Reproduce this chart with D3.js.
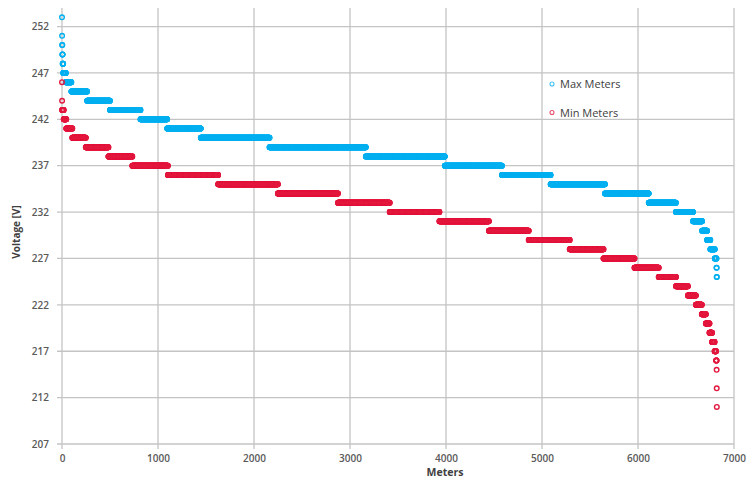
<!DOCTYPE html>
<html>
<head>
<meta charset="utf-8">
<script src="https://cdn.jsdelivr.net/npm/d3@7"></script>
<style>
  html, body { margin: 0; padding: 0; background: #fff; }
  svg { display: block; }
  .tick text { font-family: "Open Sans", "Liberation Sans", sans-serif; font-size: 10px; font-weight: 600; fill: #595959; }
</style>
</head>
<body>
<div id="chart"></div>
<script>
// Voltage levels (V) and the number of meters reading each level.
// Meters are sorted from highest to lowest voltage along the x axis.
const maxLevels = [253, 252, 251, 250, 249, 248, 247, 246, 245, 244, 243, 242, 241, 240, 239, 238, 237, 236, 235, 234, 233, 232, 231, 230, 229, 228, 227, 226, 225];
const maxCounts = [1, 0, 1, 2, 3, 6, 27, 58, 164, 238, 318, 278, 350, 716, 1003, 823, 595, 507, 566, 456, 283, 178, 95, 52, 34, 46, 18, 2, 2];

const minLevels = [246, 245, 244, 243, 242, 241, 240, 239, 238, 237, 236, 235, 234, 233, 232, 231, 230, 229, 228, 227, 226, 225, 224, 223, 222, 221, 220, 219, 218, 217, 216, 215, 214, 213, 212, 211];
const minCounts = [1, 0, 1, 16, 27, 63, 140, 236, 249, 370, 524, 622, 626, 539, 518, 515, 415, 427, 352, 323, 252, 180, 124, 83, 62, 42, 38, 27, 26, 16, 5, 1, 0, 1, 0, 1];

const xTicks = [0, 1000, 2000, 3000, 4000, 5000, 6000, 7000];
const yTicks = [207, 212, 217, 222, 227, 232, 237, 242, 247, 252];

const seriesNames = ["Max Meters", "Min Meters"];
const seriesColors = ["#00B0F0", "#E3173E"];

// Expand level/count pairs into one point per meter (rank, voltage).
function expand(levels, counts) {
  const pts = [];
  let idx = 0;
  levels.forEach((v, k) => {
    for (let c = 0; c < counts[k]; c++) pts.push({ i: idx++, v: v });
  });
  return pts;
}
const series = [expand(maxLevels, maxCounts), expand(minLevels, minCounts)];

const W = 747, H = 478;
const margin = { left: 62, right: 13, top: 8, bottom: 34 };

const svg = d3.select("#chart").append("svg")
  .attr("width", W).attr("height", H);

const defs = svg.append("defs");
defs.append("filter").attr("id", "soft")
  .append("feGaussianBlur").attr("stdDeviation", 0.45);

const x = d3.scaleLinear().domain([0, 7000]).range([margin.left, W - margin.right]);
const y = d3.scaleLinear().domain([207, 254]).range([H - margin.bottom, margin.top]);

// Gridlines
const grid = svg.append("g").attr("stroke", "#C4C4C4").attr("stroke-width", 1.3);
grid.selectAll("line.h").data(yTicks).join("line")
  .attr("x1", margin.left - 5).attr("x2", x(7000))
  .attr("y1", d => y(d)).attr("y2", d => y(d));
grid.selectAll("line.v").data(xTicks).join("line")
  .attr("x1", d => x(d)).attr("x2", d => x(d))
  .attr("y1", y(254)).attr("y2", y(207) + 5);

// Axes (labels only, lines come from the grid)
const yAxis = svg.append("g")
  .attr("transform", `translate(${margin.left},0)`)
  .call(d3.axisLeft(y).tickValues(yTicks).tickSize(0).tickPadding(13).tickFormat(d3.format("d")));
yAxis.select(".domain").remove();

const xAxis = svg.append("g")
  .attr("transform", `translate(0,${y(207)})`)
  .call(d3.axisBottom(x).tickValues(xTicks).tickSize(0).tickPadding(11).tickFormat(d3.format("d")));
xAxis.select(".domain").remove();

// Axis titles
svg.append("text")
  .attr("transform", `translate(20,${(y(254) + y(207)) / 2 + 6}) rotate(-90)`)
  .attr("text-anchor", "middle")
  .style("font-family", "'Open Sans', 'Liberation Sans', sans-serif")
  .style("font-size", "10px").style("font-weight", 700).style("fill", "#404040")
  .text("Voltage [V]");

svg.append("text")
  .attr("x", 445).attr("y", 476)
  .attr("text-anchor", "middle")
  .style("font-family", "'Open Sans', 'Liberation Sans', sans-serif")
  .style("font-size", "10.5px").style("font-weight", 700).style("fill", "#404040")
  .text("Meters");

// Points: open circle markers, one per meter
const marks = svg.append("g").attr("filter", "url(#soft)");
series.forEach((pts, s) => {
  marks.append("g")
    .attr("fill", "none")
    .attr("stroke", seriesColors[s])
    .attr("stroke-width", 1.4)
    .selectAll("circle").data(pts).join("circle")
    .attr("cx", d => x(d.i))
    .attr("cy", d => y(d.v))
    .attr("r", 2.3);
});

// Legend
const legend = svg.append("g");
seriesNames.forEach((name, s) => {
  const ly = 84 + s * 28.5;
  legend.append("circle")
    .attr("cx", 552).attr("cy", ly).attr("r", 2)
    .attr("fill", "none").attr("stroke", seriesColors[s]).attr("stroke-width", 1.1)
    .attr("opacity", 0.75);
  legend.append("text")
    .attr("x", 560).attr("y", ly + 4)
    .style("font-family", "'Open Sans', 'Liberation Sans', sans-serif")
    .style("font-size", "11px").style("fill", "#404040")
    .text(name);
});
</script>
</body>
</html>
